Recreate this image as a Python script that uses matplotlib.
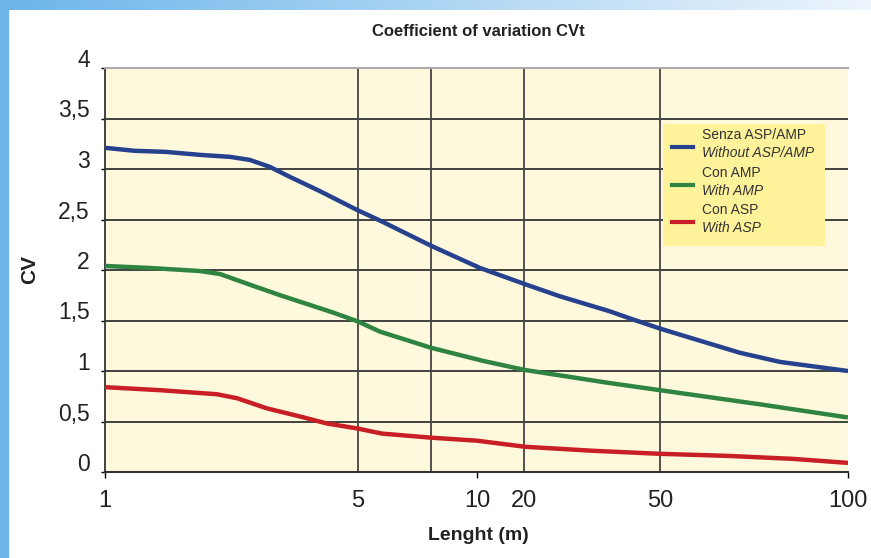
"""Coefficient of variation CVt vs length, three configurations."""

import matplotlib

matplotlib.use("Agg")
import matplotlib.pyplot as plt  # noqa: E402
import numpy as np  # noqa: E402
from matplotlib.lines import Line2D  # noqa: E402
from matplotlib.patches import Rectangle  # noqa: E402
from matplotlib.transforms import ScaledTranslation  # noqa: E402

plt.rcParams["font.family"] = ["Liberation Sans", "DejaVu Sans"]

# the original x axis is a hand-made, uneven scale: anchor lengths -> positions
SCALE_LEN = [1, 5, 8, 10, 20, 50, 100]
SCALE_POS = [0.0, 0.3405, 0.4388, 0.5007, 0.5639, 0.7470, 1.0]

blue_x = [1, 1.47, 1.95, 2.5, 2.98, 3.29, 3.61, 3.93, 4.4, 5, 5.9, 8, 10.64,
          20.2, 27.9, 39, 43.4, 50, 60.6, 71.3, 81.9, 100]
blue_y = [3.21, 3.18, 3.17, 3.14, 3.12, 3.09, 3.02, 2.92, 2.78, 2.59, 2.49,
          2.24, 2.02, 1.86, 1.74, 1.59, 1.52, 1.42, 1.30, 1.18, 1.09, 1.00]
green_x = [1, 1.71, 2.5, 2.82, 3.13, 3.77, 4.6, 5, 5.9, 8, 11.3, 20.2, 39,
           50, 76.6, 100]
green_y = [2.04, 2.02, 1.99, 1.96, 1.89, 1.75, 1.58, 1.49, 1.39, 1.23, 1.10,
           1.01, 0.88, 0.81, 0.67, 0.54]
red_x = [1, 1.87, 2.77, 3.09, 3.56, 4.08, 4.51, 5, 5.99, 8, 10, 20.2, 35.2,
         50, 67.8, 85.4, 100]
red_y = [0.84, 0.81, 0.77, 0.73, 0.63, 0.55, 0.48, 0.43, 0.38, 0.34, 0.31,
         0.25, 0.21, 0.18, 0.16, 0.13, 0.09]

series = [
    (blue_x, blue_y, "#26428f", "Senza ASP/AMP", "Without ASP/AMP"),
    (green_x, green_y, "#2f8442", "Con AMP", "With AMP"),
    (red_x, red_y, "#c81f26", "Con ASP", "With ASP"),
]

y_ticks = [0, 0.5, 1, 1.5, 2, 2.5, 3, 3.5, 4]
y_labels = ["0", "0,5", "1", "1,5", "2", "2,5", "3", "3,5", "4"]
x_major = [1, 10, 100]
x_minor = [5, 20, 50]
x_grid = [5, 8, 20, 50]


def fwd(v):
    return np.interp(v, SCALE_LEN, SCALE_POS)


def inv(v):
    return np.interp(v, SCALE_POS, SCALE_LEN)


fig = plt.figure(figsize=(8.71, 5.58), dpi=100)

# page decorations: blue strip on the left, fading bar on top
fig.patches.append(Rectangle((0, 0), 8 / 871, 1, transform=fig.transFigure,
                             color="#6db5ea", zorder=0))
top = fig.add_axes([0, 1 - 10 / 558, 1, 10 / 558])
grad = np.linspace(0, 1, 256)[None, :]
c0 = np.array([0.42, 0.71, 0.92])
c1 = np.array([0.93, 0.96, 0.99])
top.imshow(c0 + (c1 - c0) * grad[..., None], aspect="auto")
top.axis("off")

ax = fig.add_axes([105 / 871, 86 / 558, 743 / 871, 404 / 558])
ax.set_facecolor("#fef9dd")
ax.set_xscale("function", functions=(fwd, inv))
ax.set_xlim(1, 100)
ax.set_ylim(0, 4)

for y in y_ticks[1:-1]:
    ax.axhline(y, color="#333333", lw=1.3, zorder=1)
for x in x_grid:
    ax.axvline(x, color="#444444", lw=1.3, zorder=1)

for xs, ys, col, _, _ in series:
    ax.plot(xs, ys, color=col, lw=3.2, zorder=3, solid_capstyle="butt",
            solid_joinstyle="round")

ax.set_yticks(y_ticks)
ax.set_yticklabels(y_labels)
ax.set_xticks(x_major)
ax.set_xticklabels([str(v) for v in x_major])
ax.set_xticks(x_minor, minor=True)
ax.set_xticklabels([str(v) for v in x_minor], minor=True)
ax.tick_params(axis="y", length=3, width=1, labelsize=16.5, pad=8,
               labelcolor="#222222")
ax.tick_params(axis="x", which="major", length=4, width=1, labelsize=17,
               pad=9, labelcolor="#222222")
ax.tick_params(axis="x", which="minor", length=0, labelsize=17, pad=13,
               labelcolor="#222222")
up = ScaledTranslation(0, 10 / 100, fig.dpi_scale_trans)
for lab in ax.get_yticklabels():
    lab.set_transform(lab.get_transform() + up)

ax.spines["right"].set_visible(False)
ax.spines["top"].set_color("#aaaaaa")
ax.spines["top"].set_linewidth(1.5)
ax.spines["left"].set_color("#333333")
ax.spines["left"].set_linewidth(1.3)
ax.spines["bottom"].set_color("#333333")
ax.spines["bottom"].set_linewidth(1.5)

fig.text(478 / 871, 1 - 31 / 558, "Coefficient of variation CVt",
         ha="center", va="center", fontsize=12, fontweight="bold",
         color="#222222")
fig.text(30 / 871, 1 - 270 / 558, "CV", rotation=90, ha="center",
         va="center", fontsize=15, fontweight="bold", color="#222222")
fig.text(478 / 871, 1 - 535 / 558, "Lenght (m)", ha="center", va="center",
         fontsize=14, fontweight="bold", color="#222222")

# legend drawn by hand: two-line labels, second one in italics
ax.add_patch(Rectangle((0.751, 0.559), 0.218, 0.302, transform=ax.transAxes,
                       facecolor="#fef39b", edgecolor="none", zorder=4))
entry_y = [0.804, 0.710, 0.619]
for (_, _, col, it, en), ey in zip(series, entry_y):
    ax.add_line(Line2D([0.763, 0.791], [ey, ey], transform=ax.transAxes,
                       color=col, lw=3, zorder=5))
    ax.text(0.803, ey + 0.03, it, transform=ax.transAxes, fontsize=10,
            va="center", color="#333333", zorder=5)
    ax.text(0.803, ey - 0.015, en, transform=ax.transAxes, fontsize=10,
            va="center", style="italic", color="#333333", zorder=5)

fig.savefig("out.png", dpi=100)
